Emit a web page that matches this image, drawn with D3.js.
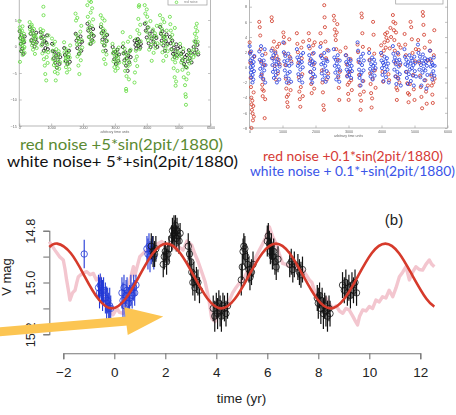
<!DOCTYPE html>
<html><head><meta charset="utf-8">
<script src="https://cdn.jsdelivr.net/npm/d3@7"></script>
<style>body{margin:0;background:#fff}svg{display:block}</style>
</head><body><svg id="c" width="456" height="415"></svg>
<script>
// ---------- top-left panel data (arbitrary time units, value) ----------
const tlXTicks = [0,1000,2000,3000,4000,5000,6000];
const tlYTicks = [-15,-10,-5,0,5];
const greenTL = [
[5,4.8],[15,3.6],[25,2.9],[35,1.5],[45,0.4],[55,2.1],[65,-0.8],[75,1.2],[85,3.0],[95,0.2],[105,-1.6],[115,1.8],[125,0.9],[135,-0.4],[145,2.4],[155,1.1],[165,-1.2],[20,-2.9],[100,3.8],[160,-0.1],
[325,4.6],[340,3.2],[355,2.5],[370,1.0],[385,3.8],[400,0.2],[415,2.8],[430,-0.6],[445,1.7],[460,3.3],[475,0.9],[490,-1.4],[505,2.2],[520,0.5],[535,1.6],[545,-0.3],[390,4.1],[470,2.0],
[665,3.3],[680,1.8],[695,0.2],[710,2.6],[725,-1.3],[740,0.8],[755,7.5],[760,5.9],[770,-2.4],[785,1.5],[800,-3.6],[815,-5.2],[830,-0.9],[845,-6.4],[860,-2.0],[875,0.4],[890,-3.1],[905,-1.1],[915,2.1],[750,3.0],
[1025,1.5],[1040,-0.8],[1055,-2.4],[1070,0.3],[1085,-3.5],[1100,-1.6],[1115,-4.8],[1130,-2.9],[1145,-6.4],[1160,-0.5],[1175,-3.9],[1190,-1.9],[1205,-5.1],[1220,-2.6],[1235,-0.9],[1250,-4.2],[1265,-1.5],[1280,-3.0],[1120,0.9],
[1405,0.8],[1420,-1.1],[1435,-2.8],[1450,-0.4],[1465,-3.9],[1480,-1.8],[1495,-4.9],[1510,-2.4],[1525,-0.9],[1540,-3.3],[1555,-1.5],[1570,-4.3],[1585,-2.1],[1595,0.2],[1460,-2.2],
[1765,6.2],[1780,4.9],[1795,2.2],[1810,0.4],[1825,-1.9],[1840,1.5],[1855,-3.6],[1870,0.9],[1885,-5.2],[1900,-0.7],[1915,2.8],[1930,-2.6],[1945,3.9],[1960,1.2],[1975,-0.2],[1820,5.4],[1890,-1.4],
[2135,7.8],[2150,5.6],[2165,3.4],[2180,1.8],[2195,4.6],[2210,0.5],[2225,2.7],[2240,6.4],[2255,1.2],[2270,3.9],[2285,7.2],[2300,2.2],[2315,5.1],[2330,0.9],[2250,8.4],[2200,8.6],
[2555,5.9],[2570,4.2],[2585,2.6],[2600,0.8],[2615,3.4],[2630,-0.9],[2645,1.9],[2660,-2.4],[2675,4.9],[2690,0.2],[2705,-3.3],[2720,2.3],[2735,-1.5],[2750,1.1],[2610,5.3],[2680,3.0],
[2925,0.5],[2940,-1.3],[2955,-2.8],[2970,-0.6],[2985,-3.9],[3000,-1.9],[3015,-4.6],[3030,-2.5],[3045,-0.9],[3060,-3.4],[3075,-1.6],[3090,-4.1],[3105,-2.2],[3120,-0.2],[3135,-3.0],
[3245,2.7],[3260,0.6],[3275,-1.2],[3290,-3.1],[3305,-0.4],[3320,-4.6],[3335,-2.3],[3350,-8.0],[3355,-8.4],[3365,-5.6],[3380,-1.6],[3395,-3.8],[3410,0.9],[3425,-2.7],[3440,-6.2],[3455,-1.0],[3470,-3.4],[3485,1.8],[3495,-0.6],
[3615,-6.8],[3630,-4.9],[3645,-2.6],[3660,-0.8],[3675,1.4],[3690,-1.9],[3705,3.1],[3720,0.4],[3735,5.2],[3750,7.5],[3760,7.8],[3765,2.4],[3780,-0.5],[3795,4.1],[3810,1.0],[3700,-3.7],
[3935,7.8],[3955,6.2],[3975,4.5],[3995,2.8],[4015,5.6],[4035,1.2],[4055,3.6],[4075,-0.6],[4095,2.1],[4115,4.8],[4135,0.3],[4155,-2.7],[4175,1.6],[4195,3.2],[4215,-1.2],[4235,0.8],[4255,2.5],[4275,-0.3],[4295,1.9],[4315,3.9],[4335,0.6],[4000,7.0],
[4415,5.9],[4430,4.1],[4445,2.6],[4460,0.5],[4475,3.3],[4490,-1.1],[4505,1.8],[4520,-2.7],[4535,0.9],[4550,4.6],[4565,2.0],[4580,-0.4],[4595,1.4],[4610,-1.8],[4625,3.0],[4640,0.2],[4655,-0.9],[4500,5.2],
[4725,5.6],[4740,4.2],[4755,3.0],[4770,1.4],[4785,-0.6],[4800,2.2],[4815,-2.4],[4830,0.5],[4845,-4.1],[4860,-1.6],[4875,-5.8],[4890,-3.0],[4905,-7.4],[4920,-6.6],[4935,-2.2],[4950,-0.9],[4965,-4.6],[4980,-1.8],[4880,3.5],
[5045,0.5],[5060,-1.2],[5080,-3.0],[5100,-1.9],[5120,-4.4],[5140,-2.6],[5160,-5.8],[5180,-3.6],[5200,-7.3],[5215,-9.0],[5225,-9.5],[5230,-11.0],[5245,-6.2],[5260,-4.0],[5280,-2.3],[5300,-5.1],[5320,-1.4],[5340,-3.2],[5360,-0.8],[5380,-2.6],[5400,-1.6],[5150,-0.4],
[5465,-2.0],[5480,-0.6],[5495,1.0],[5510,2.4],[5525,0.3],[5540,3.6],[5555,1.7],[5570,4.3],[5585,2.9],[5600,0.9],[5615,-1.1],[5530,-1.5]
];
const blackTL = [
[10,2.9],[30,1.6],[50,0.5],[70,2.2],[90,-0.4],[110,1.3],[130,-1.4],[150,0.8],[170,1.9],[60,-0.9],
[330,3.7],[355,2.4],[380,1.2],[405,3.0],[430,0.6],[455,2.0],[480,0.0],[505,1.4],[530,2.6],[545,0.8],
[670,2.7],[695,1.6],[720,0.4],[745,1.9],[770,-0.8],[795,1.0],[820,-0.3],[845,0.7],[870,2.1],[895,-0.5],
[1030,0.5],[1055,-0.9],[1080,-2.2],[1105,-1.0],[1130,-3.1],[1155,-1.7],[1180,-4.0],[1205,-2.5],[1230,-1.4],[1260,-3.3],[1285,-2.0],
[1410,-0.3],[1435,-1.6],[1460,-2.7],[1485,-1.2],[1510,-3.3],[1535,-2.0],[1560,-0.8],[1585,-2.9],
[1770,2.4],[1795,1.1],[1820,-0.3],[1845,1.6],[1870,-1.4],[1895,0.4],[1920,1.9],[1945,-0.8],[1970,0.9],
[2140,4.3],[2165,3.0],[2190,1.8],[2215,3.6],[2240,0.5],[2265,2.4],[2290,1.2],[2315,3.3],[2335,2.0],
[2560,3.7],[2585,2.5],[2610,1.3],[2635,2.9],[2660,0.2],[2685,1.7],[2710,-0.8],[2735,1.0],[2755,2.2],
[2930,-0.1],[2955,-1.2],[2980,-2.4],[3005,-1.0],[3030,-3.3],[3055,-1.8],[3080,-0.6],[3105,-2.7],[3130,-1.5],
[3250,-0.1],[3275,-1.3],[3300,-2.6],[3325,-1.1],[3350,-3.6],[3375,-2.2],[3400,-4.6],[3425,-1.7],[3450,-3.0],[3475,-0.8],[3495,-2.0],
[3620,1.1],[3645,0.3],[3670,-0.4],[3695,0.7],[3720,1.4],[3745,0.1],[3770,0.9],[3795,-0.2],[3815,0.5],
[3940,4.3],[3970,3.0],[4000,1.7],[4030,3.6],[4060,0.6],[4090,2.4],[4120,-0.1],[4150,1.5],[4180,2.9],[4210,0.9],[4240,2.0],[4270,0.3],[4300,1.6],[4330,-0.1],
[4420,3.7],[4445,2.4],[4470,1.1],[4495,2.9],[4520,0.2],[4545,1.8],[4570,-0.8],[4595,1.0],[4620,2.3],[4650,0.5],
[4725,1.8],[4750,0.6],[4775,-0.5],[4800,1.1],[4825,-1.4],[4850,-0.2],[4875,-2.0],[4900,-0.9],[4925,0.4],[4950,-1.6],[4975,-0.4],
[5050,-0.1],[5080,-1.4],[5110,-2.6],[5140,-1.0],[5170,-3.3],[5200,-2.0],[5230,-3.9],[5260,-1.6],[5290,-2.8],[5320,-0.7],[5350,-2.2],[5380,-1.2],[5405,-3.0],
[5470,-0.1],[5500,-1.2],[5530,0.9],[5560,-0.6],[5590,0.3],[5615,-1.5]
];
// ---------- top-right panel data ----------
const trXTicks = [0,1000,2000,3000,4000,5000,6000];
const trYTicks = [-8,-6,-4,-2,0,2,4,6,8];
const redTR = [
[5,3.3],[15,2.0],[25,0.6],[35,-1.4],[45,-2.6],[55,-4.0],[65,-4.9],[75,-5.6],[85,-4.4],[95,-6.1],[105,-7.0],[115,-5.1],[125,-3.3],[140,1.4],[60,-8.0],[130,-6.5],
[295,6.0],[310,5.3],[325,4.2],[340,2.4],[355,0.8],[370,-1.0],[385,-2.3],[400,-3.8],[415,-1.6],[430,-3.1],[445,0.3],[460,-6.7],[475,-4.2],[485,1.8],[390,-2.9],
[670,6.6],[680,6.1],[700,2.5],[720,1.2],[740,3.4],[760,0.2],[780,2.1],[800,-1.6],[820,1.5],[840,2.7],[860,-0.8],[880,1.0],[900,3.1],[915,0.4],
[1025,4.6],[1040,4.0],[1055,3.2],[1070,1.8],[1085,0.3],[1100,-1.5],[1115,-2.8],[1130,-3.9],[1145,-4.6],[1160,-5.2],[1175,-3.6],[1190,-2.1],[1205,3.7],[1220,1.4],[1245,-3.0],[1265,0.8],
[1435,4.5],[1450,3.1],[1465,2.0],[1480,0.6],[1495,-1.3],[1510,-3.2],[1525,-4.2],[1540,-5.2],[1555,-2.6],[1570,2.6],[1585,1.2],[1600,-0.9],[1615,-3.8],[1625,3.4],
[1795,4.5],[1810,3.6],[1825,2.5],[1840,0.9],[1855,-0.6],[1870,-2.2],[1885,-3.4],[1900,-1.4],[1915,1.8],[1930,2.9],[1945,0.4],[1960,-2.8],[1975,3.3],
[2150,4.5],[2165,3.2],[2180,1.6],[2195,-0.4],[2210,-2.0],[2225,-3.3],[2240,-5.0],[2255,-5.6],[2265,8.2],[2275,6.6],[2285,5.3],[2300,3.4],[2320,1.2],[2340,-1.6],[2360,2.3],[2385,-0.8],
[2555,6.8],[2570,6.2],[2585,5.0],[2600,4.2],[2615,3.6],[2630,2.4],[2645,4.6],[2660,5.7],[2675,1.0],[2690,-1.3],[2705,-2.7],[2720,-4.3],[2735,-0.6],[2750,2.1],
[2915,2.6],[2930,1.6],[2945,0.4],[2960,-1.1],[2975,-2.3],[2990,-3.5],[3005,-4.3],[3020,-2.0],[3040,-0.6],[3060,1.1],[3080,-1.7],[3100,-3.0],
[3275,3.0],[3290,2.0],[3305,0.7],[3320,-1.0],[3335,-2.4],[3350,-3.6],[3365,-5.6],[3380,-4.4],[3395,7.1],[3405,6.6],[3420,4.5],[3435,2.7],[3450,-1.8],[3465,-3.2],
[3625,2.4],[3640,1.0],[3655,-0.8],[3670,-2.2],[3685,-3.4],[3700,-5.3],[3715,-4.1],[3730,-1.5],[3745,6.0],[3760,4.3],[3780,1.8],[3800,-0.4],[3820,-2.7],
[3990,2.9],[4010,1.6],[4030,-0.6],[4050,-1.9],[4070,2.2],[4090,3.3],[4110,4.4],[4130,2.6],[4150,3.9],[4170,4.6],[4190,3.5],[4210,-0.9],[4230,-1.7],[4250,2.5],[4270,5.2],[4290,4.0],
[4345,6.9],[4360,6.0],[4375,4.9],[4390,3.6],[4405,2.2],[4420,0.6],[4435,-1.2],[4450,-2.7],[4465,-4.3],[4480,-3.0],[4495,-1.4],[4510,1.7],[4525,3.0],[4540,-2.0],[4560,0.3],[4580,2.6],[4420,5.8],[4440,4.6],
[4700,4.4],[4720,3.0],[4740,1.6],[4760,-0.6],[4780,-2.1],[4800,-3.4],[4820,-4.6],[4840,-3.6],[4860,-2.2],[4880,6.0],[4900,5.3],[4920,3.7],[4940,1.9],[4960,-1.0],[4980,-2.9],[5000,-4.3],[5020,0.8],[5040,2.4],
[5110,3.6],[5130,2.3],[5150,0.6],[5170,-1.1],[5190,-2.6],[5210,-3.9],[5230,-5.4],[5250,7.3],[5260,6.8],[5270,5.6],[5290,4.3],[5310,2.6],[5330,-1.7],[5350,-3.2],[5370,-4.8],[5390,0.9],[5405,-2.4],
[5465,3.4],[5480,2.2],[5495,0.9],[5510,-1.1],[5525,-2.4],[5540,-3.6],[5555,-4.7],[5570,-2.0],[5585,1.6],[5600,4.9],[5610,-1.5]
];
const blueTR = [
[5,2.8],[15,1.8],[25,0.9],[35,0.0],[45,-0.7],[55,-1.3],[65,0.5],[75,-0.3],[85,1.2],[95,-1.0],[105,0.2],[115,-1.6],[125,0.7],[135,-0.5],[145,1.5],[50,2.1],[90,-2.0],
[295,2.1],[310,1.0],[325,-0.2],[340,-1.2],[355,0.6],[370,-0.8],[385,1.6],[400,0.1],[415,-1.5],[430,0.9],[445,-0.4],[460,2.4],[475,-2.0],[485,0.3],[350,2.8],
[665,2.2],[680,1.2],[695,0.3],[710,-0.6],[725,1.6],[740,-1.4],[755,0.8],[770,-0.2],[785,1.9],[800,-1.0],[815,0.4],[830,-2.0],[845,1.1],[860,-0.5],[880,0.6],[900,-1.6],[915,0.1],
[1025,3.3],[1040,2.0],[1055,0.8],[1070,-0.4],[1085,1.5],[1100,-1.2],[1115,0.3],[1130,-2.0],[1145,0.9],[1160,-0.8],[1175,1.8],[1190,-1.5],[1205,0.2],[1220,-0.6],[1240,1.2],[1260,-1.9],[1275,0.5],
[1435,2.4],[1450,1.3],[1465,0.2],[1480,-0.9],[1495,1.0],[1510,-1.7],[1525,0.5],[1540,-0.3],[1555,1.6],[1570,-1.2],[1585,0.7],[1600,-2.0],[1615,0.0],[1625,1.9],
[1795,2.8],[1810,1.6],[1825,0.5],[1840,-0.6],[1855,1.1],[1870,-1.5],[1885,0.3],[1900,-2.0],[1915,0.8],[1930,-0.9],[1945,1.9],[1960,-0.2],[1975,0.6],[1985,-1.2],
[2145,2.7],[2160,1.5],[2175,0.4],[2190,-0.8],[2205,1.2],[2220,-1.6],[2235,0.6],[2250,-0.3],[2265,1.9],[2280,-1.1],[2295,0.2],[2310,-1.9],[2325,1.0],[2340,-0.5],[2360,0.8],[2380,-1.3],[2395,2.2],
[2555,2.4],[2570,1.3],[2585,0.2],[2600,-0.7],[2615,1.0],[2630,-1.6],[2645,0.5],[2660,-0.3],[2675,1.6],[2690,-1.1],[2705,0.1],[2720,-1.9],[2735,0.9],[2750,-0.4],
[2915,1.6],[2930,0.7],[2945,-0.3],[2960,-1.2],[2975,0.3],[2990,-0.6],[3005,1.1],[3020,-1.0],[3035,0.5],[3050,-0.2],[3065,0.9],[3080,-1.4],[3095,0.2],[3105,-0.5],
[3275,3.3],[3290,2.2],[3305,1.0],[3320,-0.3],[3335,-1.4],[3350,0.6],[3365,-2.4],[3380,1.4],[3395,-0.7],[3410,0.3],[3425,-1.8],[3440,1.8],[3455,-0.4],[3465,0.9],[3360,-1.0],
[3625,1.9],[3640,0.9],[3655,-0.2],[3670,-1.2],[3685,0.4],[3700,-0.7],[3715,1.3],[3730,-1.6],[3745,0.2],[3760,-0.4],[3775,1.0],[3790,-1.1],[3805,0.5],[3820,-0.1],
[3985,1.9],[4000,0.9],[4015,-0.1],[4030,-1.0],[4045,0.6],[4060,-1.8],[4075,0.3],[4090,1.4],[4105,-0.6],[4120,0.8],[4135,-1.3],[4150,0.1],[4165,1.2],[4180,-0.3],[4200,0.5],[4220,-2.0],
[4345,2.8],[4360,1.8],[4375,0.8],[4390,-0.3],[4405,1.3],[4420,-1.2],[4435,0.4],[4450,-2.2],[4465,0.9],[4480,-0.6],[4495,1.9],[4510,-1.5],[4525,0.1],[4540,1.0],[4555,-0.9],[4570,0.6],[4585,-2.4],
[4695,2.4],[4710,1.4],[4725,0.4],[4740,-0.6],[4755,1.0],[4770,-1.4],[4785,0.2],[4800,-2.2],[4815,0.7],[4830,-0.9],[4845,1.6],[4860,-0.3],[4875,0.5],[4890,-1.8],[4905,1.2],[4920,-0.1],[4935,0.9],[4950,-1.1],[4965,0.3],[4980,-2.4],[4995,1.4],[5010,-0.5],[5025,0.6],[5045,-1.2],
[5105,3.0],[5120,1.9],[5135,0.8],[5150,-0.3],[5165,1.4],[5180,-1.3],[5195,0.3],[5210,-2.4],[5225,0.9],[5240,-0.7],[5255,1.7],[5270,-0.2],[5285,0.5],[5300,-1.7],[5315,1.2],[5330,-0.4],[5345,0.7],[5360,-2.8],[5375,0.2],[5390,-1.0],[5405,1.0],
[5465,2.2],[5480,1.1],[5495,0.1],[5510,-0.9],[5525,0.6],[5540,-1.6],[5555,0.3],[5570,-0.5],[5585,1.3],[5600,-1.1],[5610,0.2]
];
// ---------- bottom panel (b): time (yr), V mag, error ----------
const bXTicks = [-2,0,2,4,6,8,10,12];
const bYTicks = [14.8,14.9,15.0,15.1,15.2];
const bYLabels = [14.8,15.0,15.2];
const bluePts = [
[-1.18,14.89,0.055],
[-0.62,15.02,0.05],[-0.58,15.04,0.06],[-0.55,15.01,0.045],[-0.5,15.03,0.05],[-0.46,15.05,0.06],[-0.42,15.03,0.05],
[-0.35,15.06,0.06],[-0.3,15.08,0.065],[-0.26,15.07,0.05],[-0.22,15.1,0.06],[-0.18,15.09,0.07],[-0.14,15.1,0.05],
[0.3,15.04,0.06],[0.34,15.07,0.07],[0.38,15.02,0.05],[0.42,15.09,0.06],[0.46,15.05,0.06],[0.5,15.03,0.05],[0.55,15.08,0.06],[0.6,15.06,0.05],[0.65,15.03,0.06],[0.7,15.05,0.05],[0.76,15.02,0.05],[0.8,15.04,0.05],[0.85,15.01,0.04],
[1.28,14.87,0.05],[1.32,14.89,0.06],[1.36,14.86,0.05],[1.4,14.9,0.06],[1.45,14.88,0.05],[1.5,14.87,0.05],[1.55,14.9,0.05]
];
const blackPts = [
[1.45,14.86,0.05],[1.52,14.88,0.06],[1.58,14.89,0.05],[1.63,14.87,0.05],
[1.92,14.93,0.05],[1.96,14.9,0.05],[2.0,14.88,0.04],[2.05,14.92,0.05],[2.1,14.89,0.04],[2.15,14.87,0.05],
[2.25,14.83,0.05],[2.28,14.8,0.05],[2.31,14.82,0.04],[2.34,14.79,0.05],[2.37,14.81,0.05],[2.4,14.78,0.04],[2.43,14.83,0.05],[2.46,14.8,0.05],[2.5,14.82,0.04],[2.54,14.84,0.05],[2.58,14.81,0.04],
[2.9,14.86,0.05],[2.95,14.89,0.05],[3.0,14.92,0.05],[3.04,14.96,0.05],[3.08,15.0,0.05],[3.12,14.97,0.05],[3.16,15.02,0.05],[3.22,14.99,0.05],[3.28,15.0,0.05],[3.34,15.03,0.05],
[3.88,15.1,0.05],[3.94,15.13,0.06],[4.0,15.09,0.05],[4.05,15.12,0.06],[4.1,15.08,0.05],[4.15,15.11,0.06],[4.2,15.13,0.06],[4.26,15.09,0.05],[4.32,15.1,0.05],[4.38,15.12,0.05],[4.44,15.09,0.05],
[4.98,14.99,0.06],[5.02,14.94,0.05],[5.05,14.88,0.05],[5.08,14.86,0.05],[5.12,14.87,0.05],[5.16,14.9,0.05],[5.22,14.93,0.05],[5.28,14.95,0.05],[5.32,14.98,0.05],[5.38,14.96,0.05],[5.44,14.93,0.05],
[6.0,14.84,0.06],[6.04,14.82,0.05],[6.08,14.85,0.05],[6.12,14.88,0.05],[6.16,14.86,0.05],[6.2,14.9,0.05],[6.25,14.88,0.05],[6.3,14.92,0.05],[6.35,14.94,0.05],[6.42,14.91,0.05],
[6.88,14.93,0.05],[6.94,14.92,0.05],[7.0,14.95,0.05],[7.06,14.93,0.05],[7.2,14.94,0.05],[7.26,14.96,0.05],[7.32,14.97,0.05],[7.38,14.95,0.05],
[7.96,15.06,0.05],[8.0,15.08,0.06],[8.05,15.05,0.05],[8.1,15.1,0.06],[8.15,15.07,0.05],[8.2,15.12,0.06],[8.25,15.09,0.05],[8.3,15.11,0.06],[8.36,15.13,0.06],[8.42,15.1,0.05],[8.46,15.12,0.05],
[8.95,15.01,0.05],[9.02,15.03,0.05],[9.08,15.0,0.05],[9.14,15.04,0.05],[9.2,15.02,0.05],[9.26,15.05,0.05],[9.32,15.01,0.05],[9.38,15.03,0.05],[9.44,15.0,0.05],[9.5,15.04,0.05]
];
const pinkLine = [
[-2.55,14.842],[-2.33,14.875],[-2.15,14.90],[-2.0,14.913],[-1.93,14.95],[-1.87,14.99],[-1.8,15.03],[-1.74,15.068],[-1.64,15.04],[-1.54,15.03],[-1.47,15.0],[-1.41,14.978],[-1.25,14.965],[-1.08,14.958],[-0.95,14.97],[-0.82,14.965],[-0.7,14.99],[-0.56,14.978],[-0.43,15.068],[-0.3,15.09],[-0.15,15.11],[-0.05,15.125],[0.1,15.10],[0.2,15.115],[0.35,15.119],[0.5,15.05],[0.62,14.99],[0.75,14.939],[0.81,14.971],[1.0,14.9],[1.2,14.881],[1.4,14.87],[1.6,14.855],[1.86,14.842],[2.05,14.86],[2.2,14.85],[2.35,14.87],[2.51,14.862],[2.7,14.875],[2.85,14.84],[3.03,14.855],[3.16,14.89],[3.29,14.92],[3.43,14.96],[3.56,14.997],[3.7,15.06],[3.82,15.138],[3.95,15.151],[4.08,15.12],[4.21,15.1],[4.38,15.106],[4.51,15.07],[4.64,15.04],[4.77,15.02],[4.9,15.003],[5.05,14.99],[5.2,14.96],[5.3,14.95],[5.43,14.939],[5.56,14.9],[5.69,14.875],[5.82,14.85],[5.95,14.823],[6.08,14.785],[6.2,14.82],[6.34,14.849],[6.47,14.89],[6.6,14.926],[6.73,14.93],[6.86,14.939],[7.0,14.93],[7.13,14.95],[7.26,14.94],[7.39,14.952],[7.52,14.97],[7.65,14.99],[7.75,15.0],[7.84,15.029],[7.94,15.05],[8.04,15.068],[8.2,15.075],[8.3,15.06],[8.43,15.08],[8.56,15.1],[8.7,15.09],[8.83,15.11],[8.96,15.119],[9.08,15.1],[9.21,15.106],[9.35,15.13],[9.46,15.15],[9.54,15.164],[9.62,15.13],[9.74,15.106],[9.87,15.11],[10.0,15.093],[10.13,15.1],[10.26,15.068],[10.39,15.075],[10.52,15.055],[10.65,15.06],[10.78,15.03],[10.92,15.055],[11.05,15.02],[11.18,14.978],[11.31,14.96],[11.44,14.939],[11.57,14.99],[11.7,14.96],[11.83,14.939],[11.96,14.95],[12.09,14.952],[12.22,14.93],[12.35,14.913],[12.45,14.93],[12.55,14.939]
];
// red sinusoid fit read at eighth-period points
const sineFit = [
[-2.55,14.863],[-2.24,14.850],[-1.704,14.887],[-1.168,14.975],[-0.631,15.063],[-0.095,15.100],[0.441,15.063],[0.978,14.975],[1.514,14.887],[2.05,14.850],[2.586,14.887],[3.123,14.975],[3.659,15.063],[4.195,15.100],[4.731,15.063],[5.268,14.975],[5.804,14.887],[6.34,14.850],[6.876,14.887],[7.413,14.975],[7.949,15.063],[8.485,15.100],[9.021,15.063],[9.558,14.975],[10.094,14.887],[10.63,14.850],[11.166,14.887],[11.703,14.975],[12.239,15.063],[12.55,15.093]
];
// annotation arrow in data coordinates: tail, head base, tip
const arrowPts = [[-4.5,15.19],[0.46,15.149],[1.92,15.131]];

const svg = d3.select('#c');
svg.append('rect').attr('width',456).attr('height',415).attr('fill','#fff');
const defs = svg.append('defs');
defs.append('filter').attr('id','soft').attr('x','-5%').attr('y','-5%').attr('width','110%').attr('height','110%')
  .append('feGaussianBlur').attr('stdDeviation',0.35);

const smallFont = 'Liberation Sans, Arial, sans-serif';
function scatterPanel(cfg){
  const g = svg.append('g').attr('filter','url(#soft)');
  const x = d3.scaleLinear().domain([0,6000]).range(cfg.xr);
  const y = d3.scaleLinear().domain(cfg.yd).range(cfg.yr);
  const yb = y(cfg.yTicks[0]);
  // frame
  g.append('path').attr('d',`M${cfg.xr[0]},-2V${yb}H${cfg.xr[1]}V-2`)
    .attr('fill','none').attr('stroke','#9a9a9a').attr('stroke-width',0.7);
  // axes
  const ax = g.append('g').attr('transform',`translate(0,${yb})`)
    .call(d3.axisBottom(x).tickValues(cfg.xTicks).tickSize(-2.5).tickPadding(cfg.xPad).tickFormat(d3.format('d')));
  const ay = g.append('g').attr('transform',`translate(${cfg.xr[0]},0)`)
    .call(d3.axisLeft(y).tickValues(cfg.yTicks).tickSize(-2.5).tickPadding(2.5).tickFormat(d3.format('d')));
  const ay2 = g.append('g').attr('transform',`translate(${cfg.xr[1]},0)`)
    .call(d3.axisRight(y).tickValues(cfg.yTicks).tickSize(-2.5).tickFormat(''));
  [ax,ay,ay2].forEach(a=>{
    a.select('.domain').remove();
    a.selectAll('line').attr('stroke','#9a9a9a').attr('stroke-width',0.6);
    a.selectAll('text').attr('fill','#666').attr('font-size',3.7).attr('font-family',smallFont);
  });
  g.append('text').attr('x',(cfg.xr[0]+cfg.xr[1])/2).attr('y',yb+cfg.titleDy)
    .attr('text-anchor','middle').attr('font-size',3.5).attr('fill','#666')
    .attr('font-family',smallFont).text('arbitrary time units');
  // legend box stub (only its lower part is inside the picture)
  g.append('rect').attr('x',cfg.leg[0]).attr('y',-12).attr('width',cfg.leg[1]).attr('height',12+cfg.leg[2])
    .attr('fill','#fff').attr('stroke','#9a9a9a').attr('stroke-width',0.7);
  cfg.series.forEach(s=>{
    g.append('g').selectAll('circle').data(s.data).join('circle')
      .attr('cx',d=>x(d[0])).attr('cy',d=>y(d[1])).attr('r',1.55)
      .attr('fill','none').attr('stroke',s.color).attr('stroke-width',0.85);
  });
  return g;
}

const gTL = scatterPanel({xr:[19.3,210.5], yd:[-15,5], yr:[126,20], xTicks:tlXTicks, yTicks:tlYTicks,
  xPad:0.8, titleDy:7.3, leg:[168,39,5],
  series:[{data:blackTL,color:'#1a1a1a'},{data:greenTL,color:'#66dd44'}]});
gTL.append('circle').attr('cx',176.5).attr('cy',2.3).attr('r',1.3).attr('fill','none').attr('stroke','#66dd44').attr('stroke-width',0.8);
gTL.append('text').attr('x',184).attr('y',3.3).attr('font-size',3.3).attr('fill','#888').attr('font-family',smallFont).text('red noise');

scatterPanel({xr:[249.5,447.5], yd:[-8,8], yr:[128,6.7], xTicks:trXTicks, yTicks:trYTicks,
  xPad:2.0, titleDy:9.2, leg:[395.7,47.3,4],
  series:[{data:redTR,color:'#d2402f'},{data:blueTR,color:'#2a45e0'}]});

// ---------- captions ----------
const capFont = 'Lato, "Open Sans", sans-serif';
function caption(txt,x0,x1,base,size,color){
  svg.append('text').attr('x',x0).attr('y',base).attr('font-family',capFont).attr('font-size',size)
    .attr('fill',color).attr('textLength',x1-x0).attr('lengthAdjust','spacingAndGlyphs').text(txt);
}
caption('red noise +5*sin(2pit/1880)',20,223,149.5,15.5,'#5b8a32');
caption('white noise+ 5*+sin(2pit/1880)',7,238,167,15.5,'#111');
caption('red noise +0.1*sin(2pit/1880)',263,443,161,12.8,'#d63a36');
caption('white noise + 0.1*+sin(2pit/1880)',250,455,176.3,12.8,'#3a55e8');

// ---------- bottom panel ----------
const bx = d3.scaleLinear().domain([-2,12]).range([63.3,420.3]);
const by = d3.scaleLinear().domain([14.8,15.2]).range([230.7,334.3]);
const gb = svg.append('g');
const axFont = 'Liberation Sans, Arial, Helvetica, sans-serif';
const xa = gb.append('g').attr('transform','translate(0,353.3)')
  .call(d3.axisBottom(bx).tickValues(bXTicks).tickSizeOuter(0).tickSize(6).tickPadding(8).tickFormat(d=>d<0?'\u2212'+(-d):d));
const ya = gb.append('g').attr('transform','translate(49.3,0)')
  .call(d3.axisLeft(by).tickValues(bYTicks).tickSizeOuter(0).tickSize(6).tickFormat(d=>bYLabels.includes(d)?d.toFixed(1):''));
[xa,ya].forEach(a=>{
  a.selectAll('.domain').attr('stroke','#777').attr('stroke-width',1.1);
  a.selectAll('line').attr('stroke','#777').attr('stroke-width',1.1);
  a.selectAll('text').attr('fill','#222').attr('font-family',axFont).attr('font-size',13.5);
});
ya.selectAll('text').attr('transform','rotate(-90)').attr('x',0).attr('y',-14.5).attr('dy',0)
  .attr('text-anchor','middle').attr('font-size',12.8);
gb.append('text').attr('x',241.5).attr('y',403).attr('text-anchor','middle').attr('font-family',axFont)
  .attr('font-size',13.5).attr('fill','#222').text('time (yr)');
gb.append('text').attr('transform','translate(11,277) rotate(-90)').attr('text-anchor','middle')
  .attr('font-family',axFont).attr('font-size',13).attr('fill','#222').text('V mag');
gb.append('text').attr('x',394).attr('y',224.5).attr('text-anchor','middle').attr('font-family',axFont)
  .attr('font-size',15).attr('fill','#222').text('(b)');

// pink line
gb.append('path').datum(pinkLine).attr('fill','none').attr('stroke','#f3c6cf').attr('stroke-width',3.4)
  .attr('stroke-linejoin','round').attr('d',d3.line().x(d=>bx(d[0])).y(d=>by(d[1])));

function errPoints(data,color,sw){
  const g = gb.append('g');
  g.selectAll('line').data(data).join('line')
    .attr('x1',d=>bx(d[0])).attr('x2',d=>bx(d[0]))
    .attr('y1',d=>by(d[1]-d[2])).attr('y2',d=>by(d[1]+d[2]))
    .attr('stroke',color).attr('stroke-width',sw);
  g.selectAll('circle').data(data).join('circle')
    .attr('cx',d=>bx(d[0])).attr('cy',d=>by(d[1])).attr('r',3.2)
    .attr('fill','none').attr('stroke',color).attr('stroke-width',0.8);
}
errPoints(bluePts,'#2238d6',1.1);
errPoints(blackPts,'#111',1.2);

// red sinusoid
gb.append('path').datum(sineFit).attr('fill','none').attr('stroke','#d63a2b').attr('stroke-width',2.6)
  .attr('d',d3.line().curve(d3.curveNatural).x(d=>bx(d[0])).y(d=>by(d[1])));

// yellow arrow
const [a0,a1,a2] = arrowPts.map(p=>[bx(p[0]),by(p[1])]);
const dx=a2[0]-a1[0], dy=a2[1]-a1[1], L=Math.hypot(dx,dy), nx=-dy/L, ny=dx/L, hw=14;
gb.append('line').attr('x1',a0[0]).attr('y1',a0[1]).attr('x2',a1[0]+1).attr('y2',a1[1])
  .attr('stroke','#fcc552').attr('stroke-width',9);
gb.append('polygon').attr('points',[[a1[0]+nx*hw,a1[1]+ny*hw],[a2[0],a2[1]],[a1[0]-nx*hw,a1[1]-ny*hw]].join(' '))
  .attr('fill','#fcc552');
</script></body></html>
